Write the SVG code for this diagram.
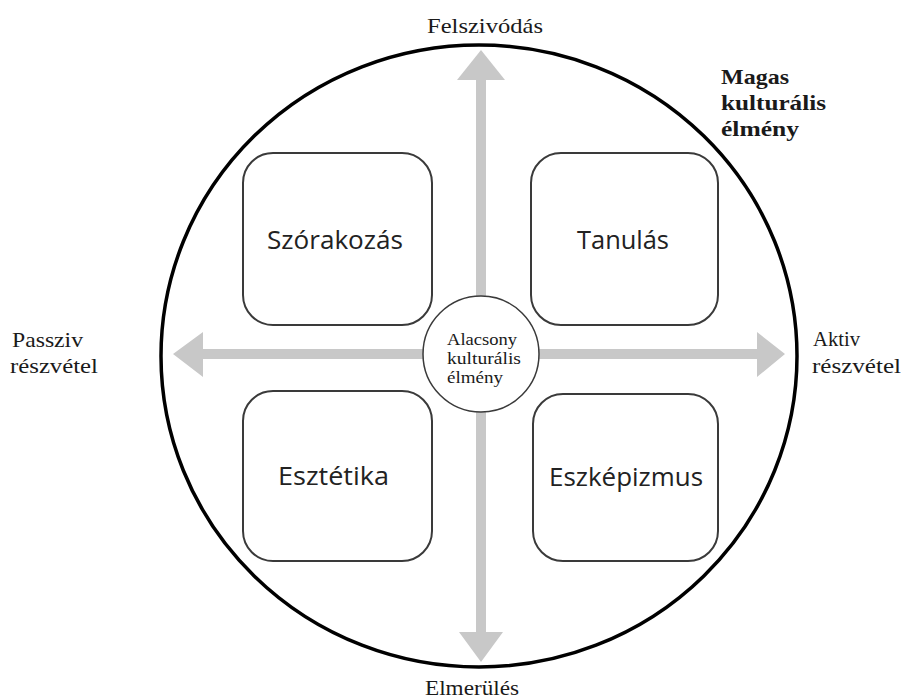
<svg xmlns="http://www.w3.org/2000/svg" width="904" height="699" viewBox="0 0 904 699">
<style>
.serif{font-family:"Liberation Serif","Times New Roman",serif;fill:#1a1a1a}
.lbl{font-size:21px}
.bold{font-size:22px;font-weight:bold}
.box rect{fill:#fff;stroke:#3a3a3a;stroke-width:2}
.box text{font-family:"Open Sans","Liberation Sans",sans-serif;font-size:25px;fill:#222}
.arrow{fill:#c8c8c8}
</style>
<rect width="904" height="699" fill="#fff"/>
<ellipse id="outer" cx="479" cy="356" rx="318" ry="311" fill="none" stroke="#000" stroke-width="3.5"/>
<g id="connectors">
<polygon class="arrow" points="481,50 505,80 486,80 486,632 503,632 481,662 459,632 476,632 476,80 457,80"/>
<polygon class="arrow" points="173,354 203,332 203,349 757,349 757,332 785,354 757,377 757,359 203,359 203,377"/>
</g>
<g id="szorakozas" class="box"><rect x="243" y="153" width="189" height="172" rx="30"/><text x="267" y="249" textLength="136" lengthAdjust="spacingAndGlyphs">Szórakozás</text></g>
<g id="tanulas" class="box"><rect x="531" y="153" width="187" height="172" rx="30"/><text x="577" y="249" textLength="92" lengthAdjust="spacingAndGlyphs">Tanulás</text></g>
<g id="esztetika" class="box"><rect x="243" y="391" width="189" height="170" rx="30"/><text x="278" y="485" textLength="111" lengthAdjust="spacingAndGlyphs">Esztétika</text></g>
<g id="eszkepizmus" class="box"><rect x="533" y="394" width="185" height="167" rx="30"/><text x="549" y="486" textLength="154" lengthAdjust="spacingAndGlyphs">Eszképizmus</text></g>
<g id="center">
<circle cx="481" cy="354" r="58" fill="#fff" stroke="#3a3a3a" stroke-width="1.5"/>
<text class="serif" font-size="17"><tspan x="447" y="345" textLength="70" lengthAdjust="spacingAndGlyphs">Alacsony</tspan><tspan x="447" y="364" textLength="74" lengthAdjust="spacingAndGlyphs">kulturális</tspan><tspan x="447" y="383" textLength="56" lengthAdjust="spacingAndGlyphs">élmény</tspan></text>
</g>
<g id="labels">
<text class="serif lbl" x="427" y="33" textLength="116" lengthAdjust="spacingAndGlyphs">Felszivódás</text>
<text class="serif lbl" x="425" y="695" textLength="94" lengthAdjust="spacingAndGlyphs">Elmerülés</text>
<text class="serif lbl" x="12" y="347" textLength="71" lengthAdjust="spacingAndGlyphs">Passziv</text>
<text class="serif lbl" x="10" y="373" textLength="88" lengthAdjust="spacingAndGlyphs">részvétel</text>
<text class="serif lbl" x="813" y="346" textLength="47" lengthAdjust="spacingAndGlyphs">Aktiv</text>
<text class="serif lbl" x="812" y="373" textLength="89" lengthAdjust="spacingAndGlyphs">részvétel</text>
<text class="serif bold" x="721" y="84" textLength="68" lengthAdjust="spacingAndGlyphs">Magas</text>
<text class="serif bold" x="721" y="110" textLength="105" lengthAdjust="spacingAndGlyphs">kulturális</text>
<text class="serif bold" x="721" y="136" textLength="78" lengthAdjust="spacingAndGlyphs">élmény</text>
</g>
</svg>
